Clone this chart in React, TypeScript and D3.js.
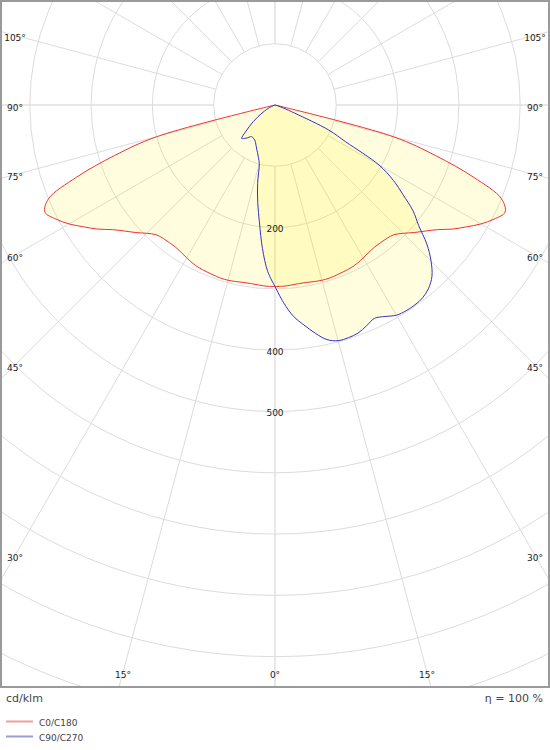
import React from "react";
import * as d3 from "d3";

// ---- data (cd/klm) ----
const gammas = [0, 2.5, 5, 7.5, 10, 12.5, 15, 17.5, 20, 22.5, 25, 27.5, 30, 32.5, 35, 37.5, 40, 42.5, 45, 47.5, 50, 52.5, 55, 57.5, 60, 62.5, 65, 67.5, 70, 72.5, 75, 77.5, 80, 82.5, 85, 87.5, 90];
const c0 = [296, 296, 295, 294, 294, 295, 296, 296, 295, 294, 293, 291, 288, 285, 283, 283, 284, 287, 296, 308, 320, 334, 353, 370, 388, 403, 414, 400, 345, 275, 200, 0, 0, 0, 0, 0, 0];
const c180 = [296, 296, 295, 294, 294, 295, 296, 296, 295, 294, 293, 291, 288, 285, 283, 283, 284, 287, 296, 308, 320, 334, 353, 370, 388, 403, 414, 400, 345, 275, 200, 0, 0, 0, 0, 0, 0];
const c90 = [296, 323, 346, 362, 378, 392, 398, 398, 396, 390, 384, 389, 396, 398, 398, 396, 390, 379, 360, 336, 306, 284, 255, 229, 196, 130, 97, 35, 15, 6, 0, 0, 0, 0, 0, 0, 0];
const c270 = [296, 272, 235, 194, 162, 131, 99, 90, 83, 78, 73, 69, 66, 65, 64, 65, 70, 74, 77, 66, 55, 45, 35, 27, 20, 15, 10, 6, 3, 0, 0, 0, 0, 0, 0, 0, 0];

const ringValues = [100, 200, 300, 400, 500, 600, 700, 800, 900, 1000];
const ringLabelValues = [200, 400, 500];
const angleLabelValues = [0, 15, 30, 45, 60, 75, 90, 105];
const spokeAngles = d3.range(0, 360, 15);
const unitLabel = "cd/klm";
const efficiencyLabel = "η = 100 %";
const legendNames = ["C0/C180", "C90/C270"];

// ---- layout ----
const W = 550;
const H = 750;
const cx = 275;
const cy = 105;
const frame = { x: 1, y: 1, w: 548, h: 686 };
const FONT = "'DejaVu Sans', Verdana, sans-serif";

const rScale = d3.scaleLinear().domain([0, 100]).range([0, 61.3]);
const toRad = (d: number) => (d * Math.PI) / 180;

function planePath(right: number[], left: number[]): string {
  const pts: [number, number][] = [];
  gammas.forEach((g, i) => pts.push([Math.PI - toRad(g), rScale(right[i])]));
  for (let i = gammas.length - 1; i >= 0; i--) {
    pts.push([Math.PI + toRad(gammas[i]), rScale(left[i])]);
  }
  return (
    d3
      .lineRadial<[number, number]>()
      .angle((d) => d[0])
      .radius((d) => d[1])
      .curve(d3.curveCatmullRomClosed.alpha(0.5))(pts) || ""
  );
}

function labelPos(a: number, side: number) {
  const dx = side * Math.sin(toRad(a));
  const dy = Math.cos(toRad(a));
  let t = Infinity;
  if (Math.abs(dx) > 1e-6) t = Math.min(t, 260 / Math.abs(dx));
  if (dy > 1e-6) t = Math.min(t, 567 / dy);
  return { x: cx + t * dx, y: cy + t * dy };
}

export default function App() {
  const pathC0 = planePath(c0, c180);
  const pathC90 = planePath(c90, c270);
  const rMax = rScale(1200);

  const angleLabels: { key: string; x: number; y: number; text: string }[] = [];
  angleLabelValues.forEach((a) => {
    const sides = a === 0 ? [1] : [-1, 1];
    sides.forEach((s) => {
      const p = labelPos(a, s);
      angleLabels.push({ key: `${a}_${s}`, x: p.x, y: p.y, text: `${a}°` });
    });
  });

  return (
    <svg
      width={W}
      height={H}
      style={{ position: "absolute", left: 0, top: 0, background: "#fff" }}
      xmlns="http://www.w3.org/2000/svg"
    >
      <defs>
        <clipPath id="frameClip">
          <rect x={2} y={2} width={546} height={684} />
        </clipPath>
      </defs>
      <rect x={0} y={0} width={W} height={H} fill="#fff" />
      <g clipPath="url(#frameClip)">
        {spokeAngles.map((a) => {
          const dx = Math.sin(toRad(a));
          const dy = Math.cos(toRad(a));
          const major = a % 90 === 0;
          const r0 = rScale(100);
          return (
            <line
              key={`sp${a}`}
              x1={cx + r0 * dx}
              y1={cy + r0 * dy}
              x2={cx + rMax * dx}
              y2={cy + rMax * dy}
              stroke={major ? "#e8e8e8" : "#dcdcdc"}
              strokeWidth={major ? 2 : 1}
            />
          );
        })}
        {ringValues.map((v) => (
          <circle key={`r${v}`} cx={cx} cy={cy} r={rScale(v)} fill="none" stroke="#dcdcdc" strokeWidth={1} />
        ))}
        <g transform={`translate(${cx},${cy})`}>
          <path d={pathC0} fill="#fff200" fillOpacity={0.13} stroke="none" />
          <path d={pathC90} fill="#fff200" fillOpacity={0.13} stroke="none" />
          <path d={pathC0} fill="none" stroke="#ee3333" strokeWidth={1} strokeLinejoin="round" />
          <path d={pathC90} fill="none" stroke="#3333cc" strokeWidth={1} strokeLinejoin="round" />
        </g>
        {ringLabelValues.map((v) => (
          <text
            key={`rl${v}`}
            x={cx}
            y={cy + rScale(v) + 4.7}
            textAnchor="middle"
            fontFamily={FONT}
            fontSize={9}
            fill="#222"
          >
            {v}
          </text>
        ))}
        {angleLabels.map((l) => (
          <text key={l.key} x={l.x} y={l.y + 5.5} textAnchor="middle" fontFamily={FONT} fontSize={9} fill="#222">
            {l.text}
          </text>
        ))}
      </g>
      <rect x={frame.x} y={frame.y} width={frame.w} height={frame.h} fill="none" stroke="#9a9a9a" strokeWidth={2} />
      <text x={6} y={702} fontFamily={FONT} fontSize={11} fill="#444">
        {unitLabel}
      </text>
      <text x={543} y={702} textAnchor="end" fontFamily={FONT} fontSize={11} fill="#444">
        {efficiencyLabel}
      </text>
      {legendNames.map((name, i) => (
        <g key={name}>
          <line
            x1={6}
            x2={33}
            y1={721.5 + i * 15}
            y2={721.5 + i * 15}
            stroke={i === 0 ? "#f29c9c" : "#9c9cd8"}
            strokeWidth={2}
          />
          <text x={39} y={725.5 + i * 15} fontFamily={FONT} fontSize={9} fill="#444">
            {name}
          </text>
        </g>
      ))}
    </svg>
  );
}
